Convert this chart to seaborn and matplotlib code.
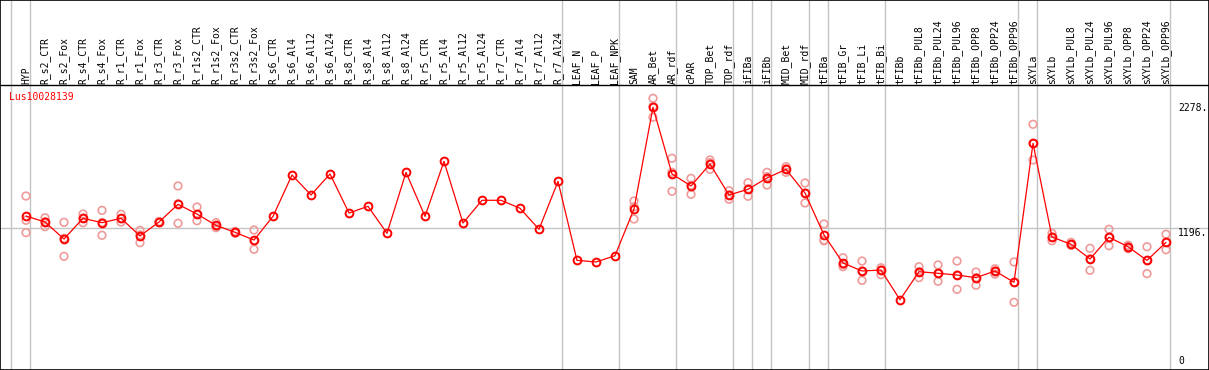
import numpy as np
import pandas as pd
import matplotlib
matplotlib.use("Agg")
import matplotlib.pyplot as plt
import seaborn as sns

# ---------------- data ----------------
categories = [
    "HYP", "R_s2_CTR", "R_s2_Fox", "R_s4_CTR", "R_s4_Fox", "R_r1_CTR", "R_r1_Fox",
    "R_r3_CTR", "R_r3_Fox", "R_r1s2_CTR", "R_r1s2_Fox", "R_r3s2_CTR", "R_r3s2_Fox",
    "R_s6_CTR", "R_s6_Al4", "R_s6_Al12", "R_s6_Al24", "R_s8_CTR", "R_s8_Al4",
    "R_s8_Al12", "R_s8_Al24", "R_r5_CTR", "R_r5_Al4", "R_r5_Al12", "R_r5_Al24",
    "R_r7_CTR", "R_r7_Al4", "R_r7_Al12", "R_r7_Al24", "LEAF_N", "LEAF_P", "LEAF_NPK",
    "SAM", "AR_Bet", "AR_rdf", "cPAR", "TOP_Bet", "TOP_rdf", "iFIBa", "iFIBb",
    "MID_Bet", "MID_rdf", "tFIBa", "tFIB_Gr", "tFIB_Li", "tFIB_Bi", "tFIBb",
    "tFIBb_PUL8", "tFIBb_PUL24", "tFIBb_PUL96", "tFIBb_OPP8", "tFIBb_OPP24",
    "tFIBb_OPP96", "sXYLa", "sXYLb", "sXYLb_PUL8", "sXYLb_PUL24", "sXYLb_PUL96",
    "sXYLb_OPP8", "sXYLb_OPP24", "sXYLb_OPP96",
]

mean_values = [
    1303, 1251, 1104, 1283, 1245, 1283, 1130, 1251, 1404, 1320, 1222, 1162, 1095,
    1300, 1658, 1485, 1667, 1329, 1387, 1153, 1681, 1300, 1776, 1242, 1439,
    1439, 1370, 1188, 1603, 919, 905, 959,
    1364, 2244, 1667, 1563, 1753, 1485, 1534, 1632, 1707, 1502,
    1139, 896, 827, 835, 578, 821, 807, 792, 769, 827, 729,
    1932, 1121, 1058, 931, 1119, 1037, 919, 1075,
]

nan = np.nan
rep_a = [
    1476, 1288, 1248, 1320, 1352, 1318, 1179, 1255, 1563, 1381, 1245, 1170, 1182,
    nan, nan, nan, nan, nan, nan, nan, nan, nan, nan, nan, nan, nan, nan, nan, nan,
    nan, nan, nan,
    1433, 2322, 1803, 1629, 1788, 1522, 1591, 1681, 1730, 1589,
    1234, 942, 913, 855, nan, 864, 879, 913, 818, 846, 905,
    2097, 1153, 1075, 1023, 1188, 1050, 1037, 1145,
]
rep_b = [
    1266, 1211, 954, 1245, 1136, 1251, 1072, 1247, 1240, 1262, 1202, 1155, 1015,
    nan, nan, nan, nan, nan, nan, nan, nan, nan, nan, nan, nan, nan, nan, nan, nan,
    nan, nan, nan,
    1277, 2158, 1517, 1491, 1707, 1448, 1474, 1571, 1681, 1416,
    1095, 864, 746, 795, nan, 769, 738, 668, 703, 800, 556,
    1788, 1089, 1050, 833, 1046, 1020, 804, 1011,
]
rep_c = [
    1159, 1254, 1110, 1284, 1247, 1280, 1139, 1251, 1409, 1317, 1219, 1162, 1088,
    nan, nan, nan, nan, nan, nan, nan, nan, nan, nan, nan, nan, nan, nan, nan, nan,
    nan, nan, nan,
    1382, 2252, 1681, 1569, 1764, 1485, 1537, 1644, 1710, 1502,
    1088, 882, 827, 835, nan, 821, 807, 792, 769, 827, 729,
    1932, 1121, 1058, 931, 1119, 1037, 919, 1075,
]

group_sizes = [1, 28, 3, 3, 3, 1, 1, 2, 1, 3, 7, 1, 7]
tick_values = [2278, 1196, 0]
tick_labels = ["2278.", "1196.", "0"]
gene_name = "Lus10028139"

# ---------------- layout ----------------
W, H = 1209, 370
X0, DX = 26.0, 19.0          # pixel x of first column, column spacing
Y0, K = 366.5, 0.1155        # pixel y of value 0, pixels per unit

def yv(p):
    return (Y0 - p) / K

def xv(p):
    return (p - X0) / DX

sns.set_style("white")
plt.rcParams["font.family"] = ["DejaVu Sans Mono", "DejaVu Sans"]

fig = plt.figure(figsize=(W / 100, H / 100), dpi=100)
ax = fig.add_axes([0, 0, 1, 1])
ax.set_xlim(xv(0), xv(W))
ax.set_ylim(yv(H), yv(0))
ax.set_xticks([])
ax.set_yticks([])
for s in ax.spines.values():
    s.set_visible(True)
    s.set_color("black")
    s.set_linewidth(1.2)

idx = np.arange(len(categories))
df_mean = pd.DataFrame({"idx": idx, "value": mean_values})
df_rep = pd.DataFrame({
    "idx": np.concatenate([idx, idx, idx]),
    "value": np.concatenate([rep_a, rep_b, rep_c]),
}).dropna()

grid_c = "#c4c4c4"
# separators at group starts
starts = np.concatenate([[0], np.cumsum(group_sizes)])
for s in starts:
    ax.axvline(s - 0.77, color=grid_c, lw=1.0, zorder=1)
ax.axhline(1196, color=grid_c, lw=1.0, zorder=1)
# header separator line
ax.axhline(yv(85), color="black", lw=1.0, zorder=1.5)

# replicates
sns.scatterplot(data=df_rep, x="idx", y="value", ax=ax, marker="o", s=30,
                legend=False, zorder=2)
coll = ax.collections[-1]
coll.set_facecolor("none")
coll.set_edgecolor("#f09a9a")
coll.set_linewidth(1.2)

# means
sns.lineplot(data=df_mean, x="idx", y="value", ax=ax, color="#ff0000", lw=0.9,
             marker="o", markersize=5.6, markerfacecolor="none",
             markeredgecolor="#ff0000", markeredgewidth=1.4, zorder=3)
ax.set_xlabel("")
ax.set_ylabel("")

# header labels
for i, lab in enumerate(categories):
    ax.text(i, yv(83.8), lab, rotation=90, ha="center", va="bottom",
            fontsize=7, color="black")

# gene name
ax.text(xv(9.0), yv(92.0), gene_name, ha="left", va="top", fontsize=7,
        color="#ff0000")

# right-side value labels
for v, lab in zip(tick_values, tick_labels):
    if v == 0:
        ax.text(xv(1178), v, lab, ha="left", va="bottom", fontsize=7, color="black")
    else:
        ax.text(xv(1178), v, lab, ha="left", va="top", fontsize=7, color="black")

fig.savefig("out.png", dpi=100)
